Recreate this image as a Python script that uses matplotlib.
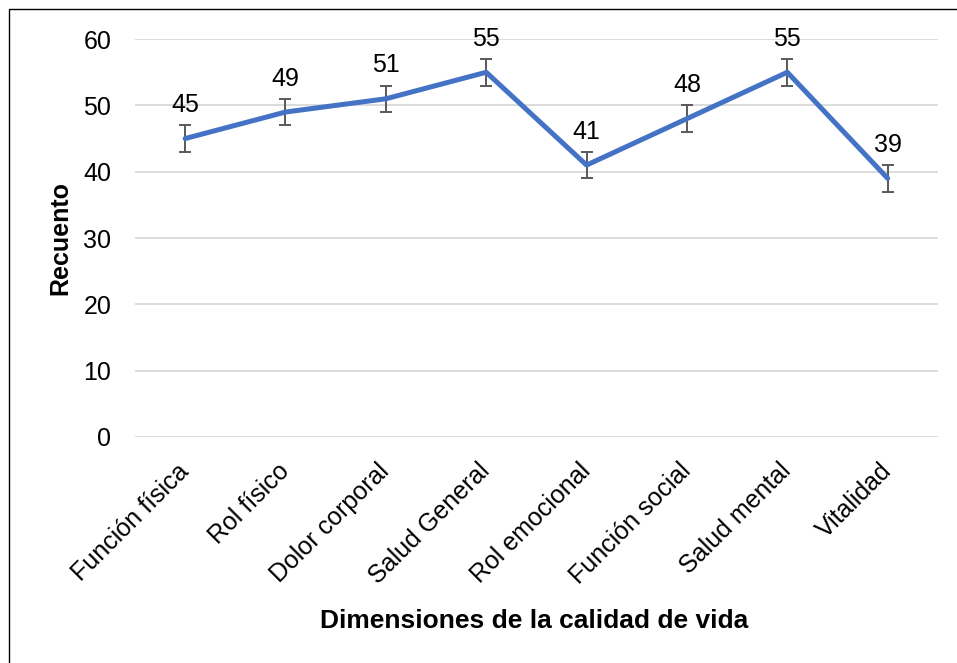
import matplotlib.pyplot as plt
from matplotlib.patches import Rectangle

CATEGORIES = [
    "Función física",
    "Rol físico",
    "Dolor corporal",
    "Salud General",
    "Rol emocional",
    "Función social",
    "Salud mental",
    "Vitalidad",
]
COUNTS = [45, 49, 51, 55, 41, 48, 55, 39]
ERRORS = [2, 2, 2, 2, 2, 2, 2, 2]
Y_TICKS = [0, 10, 20, 30, 40, 50, 60]

LINE_COLOR = "#4472C4"
ERR_COLOR = "#595959"
GRID_COLOR = "#D9D9D9"

plt.rcParams["font.family"] = ["Liberation Sans", "DejaVu Sans"]


def main() -> None:
    fig = plt.figure(figsize=(9.57, 6.63), dpi=100)
    ax = fig.add_axes([0.141, 0.341, 0.839, 0.600])

    x = list(range(len(CATEGORIES)))
    ax.errorbar(
        x,
        COUNTS,
        yerr=ERRORS,
        fmt="none",
        ecolor=ERR_COLOR,
        elinewidth=1.4,
        capsize=4.5,
        capthick=1.4,
        zorder=2,
    )
    ax.plot(x, COUNTS, color=LINE_COLOR, linewidth=3.6, solid_capstyle="round", zorder=3)

    for xi, val in zip(x, COUNTS):
        ax.annotate(
            str(val),
            (xi, val),
            xytext=(0, 24),
            textcoords="offset points",
            ha="center",
            va="center",
            fontsize=18,
            color="#000000",
        )

    ax.set_xlim(-0.5, len(CATEGORIES) - 0.5)
    ax.set_ylim(0, 60)
    ax.set_yticks(Y_TICKS)
    ax.set_xticks(x)
    ax.set_xticklabels(
        CATEGORIES, rotation=45, ha="right", va="center",
        rotation_mode="anchor", fontsize=18,
    )
    ax.tick_params(axis="y", labelsize=18, length=0, pad=17)
    ax.tick_params(axis="x", length=0, pad=22)
    ax.yaxis.grid(True, color=GRID_COLOR, linewidth=1.3)
    ax.set_axisbelow(True)
    for spine in ax.spines.values():
        spine.set_visible(False)

    ax.set_ylabel("Recuento", fontsize=18, fontweight="bold", labelpad=8)
    fig.text(0.558, 0.064, "Dimensiones de la calidad de vida",
             fontsize=19, fontweight="bold", ha="center", va="center")

    fig.patches.append(
        Rectangle((9 / 957, -0.05), 1.2, 1.05 - 9 / 663,
                  transform=fig.transFigure, fill=False,
                  edgecolor="#000000", linewidth=1.0)
    )

    fig.savefig("out.png", dpi=100)
    plt.close(fig)


if __name__ == "__main__":
    main()
